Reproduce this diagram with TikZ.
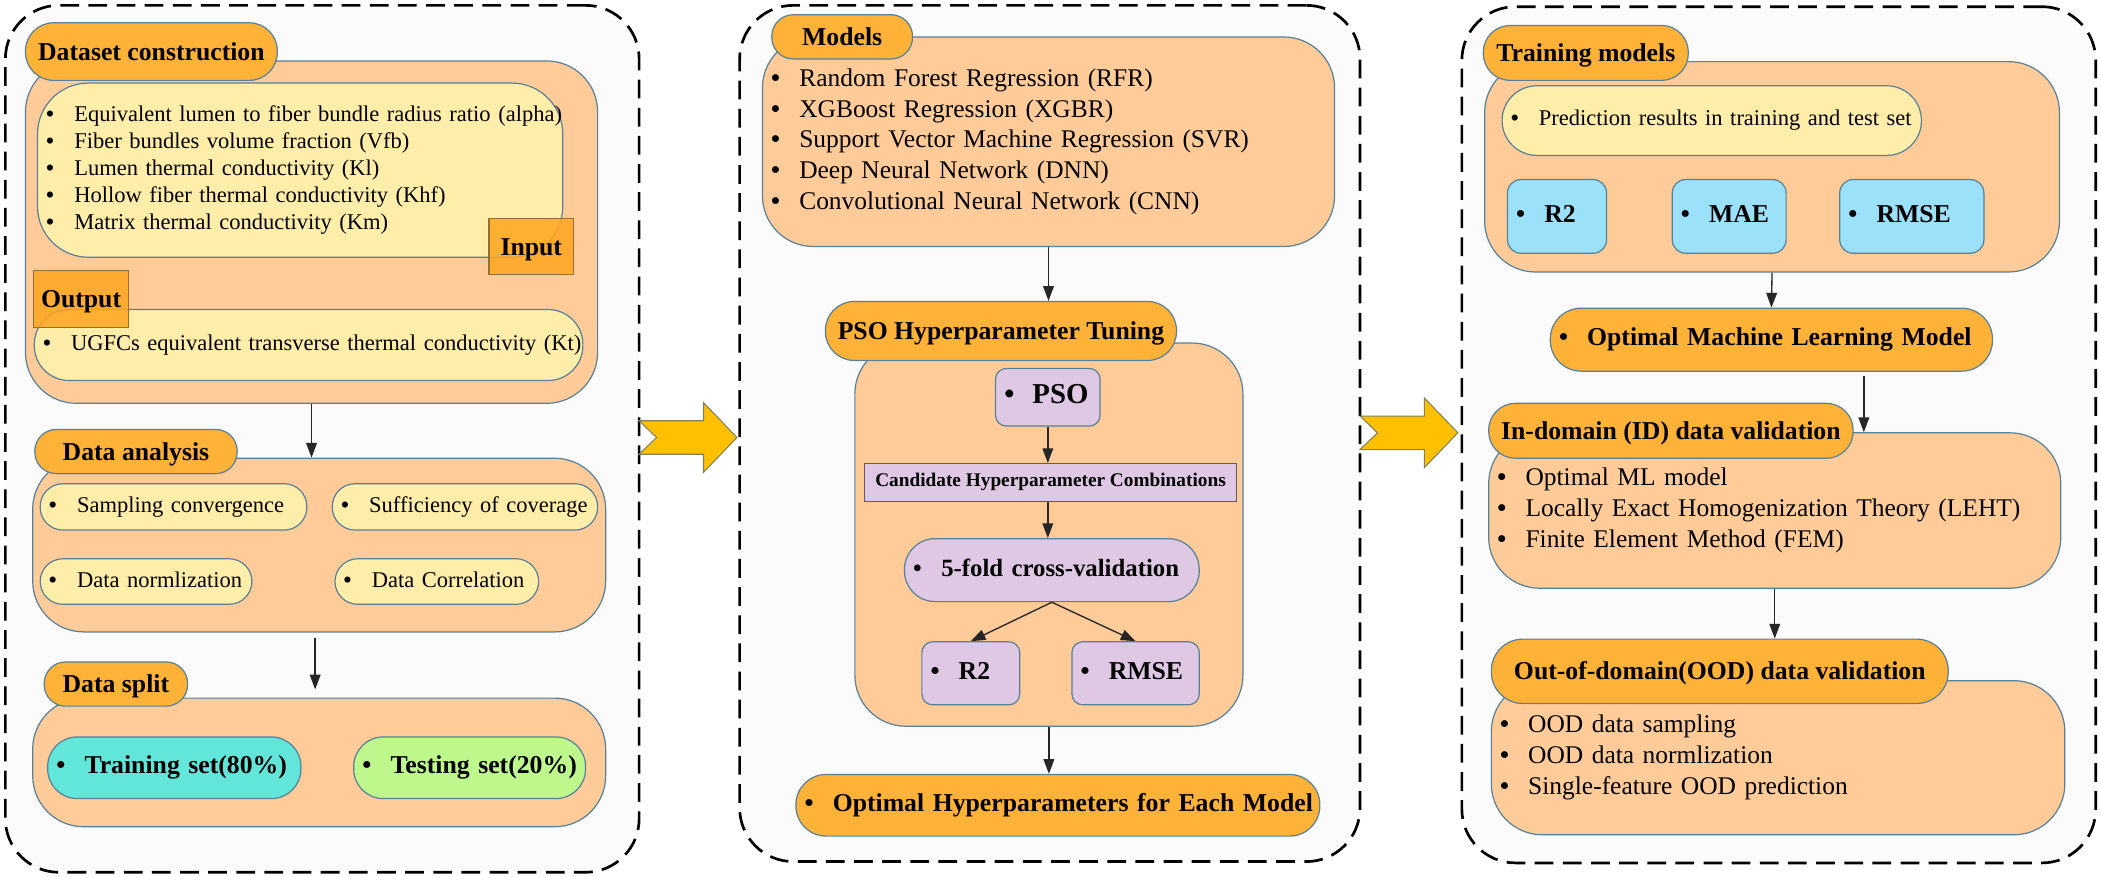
\documentclass[tikz,border=0pt]{standalone}
\usepackage{fontspec}
\setmainfont{Liberation Serif}
\usetikzlibrary{arrows.meta}
\usetikzlibrary{shapes}

\definecolor{panelFill}{RGB}{251,251,251}
\definecolor{peachFill}{RGB}{255,204,153}
\definecolor{headFill}{RGB}{255,178,56}
\definecolor{yellowFill}{RGB}{255,237,170}
\definecolor{tagFill}{RGB}{255,165,30}
\definecolor{purpleFill}{RGB}{222,200,228}
\definecolor{blueFill}{RGB}{155,225,250}
\definecolor{tealFill}{RGB}{97,230,217}
\definecolor{greenFill}{RGB}{190,247,140}
\definecolor{arrowFill}{RGB}{255,192,0}
\definecolor{boxLine}{RGB}{88,128,152}
\definecolor{tagLine}{RGB}{150,110,50}
\definecolor{candLine}{RGB}{100,85,100}
\definecolor{arrowLine}{RGB}{130,130,90}

\newcommand{\itemline}[1]{\makebox[21pt][l]{\bfseries\textbullet}\mbox{#1}\rule[-0.2em]{0pt}{0.86em}}
\newcommand{\smallText}{\fontsize{16.8}{20.25}\selectfont}
\newcommand{\listText}{\fontsize{19}{23}\selectfont}
\newcommand{\headText}{\bfseries\fontsize{19.2}{23}\selectfont}

\begin{document}
\begin{tikzpicture}[x = 1pt, y = -1pt]
	\tikzstyle{panelStyle} = [rectangle, draw = black, fill = panelFill, line width = 2pt, dash pattern = on 14pt off 7pt, rounded corners = 40pt, inner sep = 0pt]
	\tikzstyle{groupStyle} = [rectangle, draw = boxLine, fill = peachFill, line width = 0.9pt, rounded corners = 38pt, inner xsep = 6.5pt, inner ysep = 0pt, align = left]
	\tikzstyle{headStyle} = [rectangle, draw = boxLine, fill = headFill, line width = 0.9pt, inner sep = 0pt, font = \headText, text height = 16.5pt, text depth = 3.8pt]
	\tikzstyle{itemStyle} = [rectangle, draw = boxLine, line width = 0.9pt, inner xsep = 6.5pt, inner ysep = 0pt, align = left]
	\tikzstyle{tagStyle} = [rectangle, draw = tagLine, fill = tagFill, fill opacity = 0.85, text opacity = 1, line width = 0.9pt, inner sep = 0pt, font = \headText, text height = 16.5pt, text depth = 3.8pt]
	\tikzstyle{edgeStyle} = [draw = black!85, line width = 1pt, -{Triangle[length = 11pt, width = 8pt]}]
	\useasboundingbox (0,0) rectangle (1568,654.5);

	\node[panelStyle, minimum width = 473pt, minimum height = 647pt] (panelData) at (240.5,327.5) {};
	\node[panelStyle, minimum width = 463pt, minimum height = 639pt] (panelModel) at (783.5,323.5) {};
	\node[panelStyle, minimum width = 473pt, minimum height = 639pt] (panelCheck) at (1327.5,324.5) {};
	\foreach \tx/\cy in {477/326.5, 1015/323}
		\draw[draw = arrowLine, fill = arrowFill, line width = 0.8pt] (\tx,\cy-12.5) -- (\tx+48,\cy-12.5) -- (\tx+48,\cy-26) -- (\tx+73,\cy) -- (\tx+48,\cy+26) -- (\tx+48,\cy+12.5) -- (\tx,\cy+12.5) -- (\tx+13,\cy) -- cycle;

	\node[groupStyle, minimum width = 427pt, minimum height = 255.5pt] (dataGroup) at (232.5,173.25) {};
	\node[headStyle, rounded corners = 21pt, minimum width = 188pt, minimum height = 43pt] (dataHead) at (113,38.5) {Dataset construction};
	\node[itemStyle, fill = yellowFill, rounded corners = 38pt, font = \smallText, text width = 379pt, minimum height = 130pt] (inputList) at (224,127) {\itemline{Equivalent lumen to fiber bundle radius ratio (alpha)}\\ \itemline{Fiber bundles volume fraction (Vfb)}\\ \itemline{Lumen thermal conductivity (Kl)}\\ \itemline{Hollow fiber thermal conductivity (Khf)}\\ \itemline{Matrix thermal conductivity (Km)}};
	\node[tagStyle, minimum width = 63pt, minimum height = 42pt] (inputTag) at (396.5,184) {Input};
	\node[itemStyle, fill = yellowFill, rounded corners = 26pt, font = \smallText, text width = 396.4pt, minimum height = 53pt] (outputItem) at (230.3,257.5) {\itemline{UGFCs equivalent transverse thermal conductivity (Kt)}};
	\node[tagStyle, minimum width = 71pt, minimum height = 42.5pt] (outputTag) at (60.5,223.25) {Output};

	\node[groupStyle, minimum width = 427.6pt, minimum height = 129.6pt] (analysisGroup) at (238.2,406.8) {};
	\node[headStyle, rounded corners = 16pt, minimum width = 151pt, minimum height = 33pt] (analysisHead) at (101.5,337) {Data analysis};
	\node[itemStyle, fill = yellowFill, rounded corners = 17pt, font = \smallText, text width = 186pt, minimum height = 34.6pt] (samplingItem) at (129.5,378.3) {\itemline{Sampling convergence}};
	\node[itemStyle, fill = yellowFill, rounded corners = 17pt, font = \smallText, text width = 185pt, minimum height = 34.6pt] (coverageItem) at (347,378.3) {\itemline{Sufficiency of coverage}};
	\node[itemStyle, fill = yellowFill, rounded corners = 17pt, font = \smallText, text width = 145pt, minimum height = 34pt] (normItem) at (109,434) {\itemline{Data normlization}};
	\node[itemStyle, fill = yellowFill, rounded corners = 17pt, font = \smallText, text width = 139pt, minimum height = 34pt] (corrItem) at (326,434) {\itemline{Data Correlation}};

	\node[groupStyle, minimum width = 427.6pt, minimum height = 96pt] (splitGroup) at (238.2,569) {};
	\node[headStyle, rounded corners = 16pt, minimum width = 107pt, minimum height = 33pt] (splitHead) at (86.5,510.5) {Data split};
	\node[itemStyle, fill = tealFill, rounded corners = 22pt, font = \headText, text width = 176pt, minimum height = 46pt] (trainSet) at (130.1,573) {\itemline{Training set(80\%)}};
	\node[itemStyle, fill = greenFill, rounded corners = 22pt, font = \headText, text width = 160pt, minimum height = 46pt] (testSet) at (350.5,573) {\itemline{Testing set(20\%)}};

	\draw[edgeStyle] (dataGroup.south) -- (dataGroup.south |- analysisGroup.north);
	\draw[edgeStyle] ([xshift = -3pt, yshift = -4pt]analysisGroup.south) -- ([xshift = -3pt, yshift = 6pt]analysisGroup.south |- splitGroup.north);

	\node[groupStyle, minimum width = 427pt, minimum height = 156.4pt, font = \listText, text width = 414pt] (modelList) at (782.5,105.8) {\itemline{Random Forest Regression (RFR)}\\ \itemline{XGBoost Regression (XGBR)}\\ \itemline{Support Vector Machine Regression (SVR)}\\ \itemline{Deep Neural Network (DNN)}\\ \itemline{Convolutional Neural Network (CNN)}};
	\node[headStyle, rounded corners = 16pt, minimum width = 105pt, minimum height = 33pt] (modelHead) at (628.5,27.5) {Models};
	\node[groupStyle, minimum width = 289.6pt, minimum height = 286pt] (psoGroup) at (782.8,399) {};
	\node[headStyle, rounded corners = 21.5pt, minimum width = 262pt, minimum height = 44pt] (psoHead) at (747,247) {PSO Hyperparameter Tuning};
	\node[itemStyle, fill = purpleFill, rounded corners = 8pt, font = \bfseries\fontsize{21.5}{25}\selectfont, text width = 65pt, minimum height = 43pt] (psoItem) at (782,296.5) {\itemline{PSO}};
	\node[rectangle, draw = candLine, fill = purpleFill, line width = 0.9pt, font = \bfseries\fontsize{14.4}{17}\selectfont, minimum width = 278pt, minimum height = 28pt, inner sep = 0pt] (candItem) at (784,360) {Candidate Hyperparameter Combinations};
	\node[itemStyle, fill = purpleFill, rounded corners = 23pt, font = \bfseries\fontsize{18.5}{22}\selectfont, text width = 207pt, minimum height = 47pt] (foldItem) at (785,425.5) {\itemline{5-fold cross-validation}};
	\node[itemStyle, fill = purpleFill, rounded corners = 8pt, font = \headText, text width = 60pt, minimum height = 47pt] (psoR2) at (724.5,502.5) {\itemline{R2}};
	\node[itemStyle, fill = purpleFill, rounded corners = 8pt, font = \headText, text width = 82pt, minimum height = 47pt] (psoRmse) at (847.5,502.5) {\itemline{RMSE}};
	\node[itemStyle, fill = headFill, rounded corners = 22.5pt, font = \headText, text width = 378pt, minimum height = 46pt] (bestParams) at (789.5,601) {\itemline{Optimal Hyperparameters for Each Model}};

	\draw[edgeStyle] (modelList.south) -- (modelList.south |- psoHead.north);
	\draw[edgeStyle] (psoItem.south) -- (psoItem.south |- candItem.north);
	\draw[edgeStyle] (psoItem.south |- candItem.south) -- (psoItem.south |- foldItem.north);
	\draw[edgeStyle] (foldItem.south) -- (psoR2.north);
	\draw[edgeStyle] (foldItem.south) -- (psoRmse.north);
	\draw[edgeStyle] (psoGroup.south) -- (psoGroup.south |- bestParams.north);

	\node[groupStyle, minimum width = 429pt, minimum height = 157pt] (trainGroup) at (1322.5,124.5) {};
	\node[headStyle, rounded corners = 20pt, minimum width = 153pt, minimum height = 41pt] (trainHead) at (1183.5,39.5) {Training models};
	\node[itemStyle, fill = yellowFill, rounded corners = 26pt, font = \smallText, text width = 300pt, minimum height = 52pt] (predItem) at (1277.5,90) {\itemline{Prediction results in training and test set}};
	\node[itemStyle, fill = blueFill, rounded corners = 10pt, font = \headText, text width = 61pt, minimum height = 55pt] (trainR2) at (1162,161.5) {\itemline{R2}};
	\node[itemStyle, fill = blueFill, rounded corners = 10pt, font = \headText, text width = 72pt, minimum height = 55pt] (trainMae) at (1290.5,161.5) {\itemline{MAE}};
	\node[itemStyle, fill = blueFill, rounded corners = 10pt, font = \headText, text width = 94.6pt, minimum height = 55pt] (trainRmse) at (1426.8,161.5) {\itemline{RMSE}};
	\node[itemStyle, fill = headFill, rounded corners = 23pt, font = \headText, text width = 317pt, minimum height = 47pt] (bestModel) at (1322,253.5) {\itemline{Optimal Machine Learning Model}};
	\node[groupStyle, minimum width = 427pt, minimum height = 116pt, font = \listText, text width = 414pt] (idList) at (1324.5,381) {\itemline{Optimal ML model}\\ \itemline{Locally Exact Homogenization Theory (LEHT)}\\ \itemline{Finite Element Method (FEM)}};
	\node[headStyle, rounded corners = 20pt, minimum width = 272pt, minimum height = 41pt] (idHead) at (1247,321.5) {In-domain (ID) data validation};
	\node[groupStyle, minimum width = 428pt, minimum height = 115pt, font = \listText, text width = 415pt] (oodList) at (1327,565.5) {\itemline{OOD data sampling}\\ \itemline{OOD data normlization}\\ \itemline{Single-feature OOD prediction}};
	\node[headStyle, rounded corners = 23.5pt, minimum width = 341pt, minimum height = 48pt] (oodHead) at (1283.5,501) {Out-of-domain(OOD) data validation};

	\draw[edgeStyle] (trainGroup.south) -- (bestModel.north);
	\draw[edgeStyle] ([xshift = 69pt, yshift = -3pt]bestModel.south) -- ([xshift = 69pt]bestModel.south |- idList.north);
	\draw[edgeStyle] (idList.south) -- (idList.south |- oodHead.north);
\end{tikzpicture}
\end{document}
